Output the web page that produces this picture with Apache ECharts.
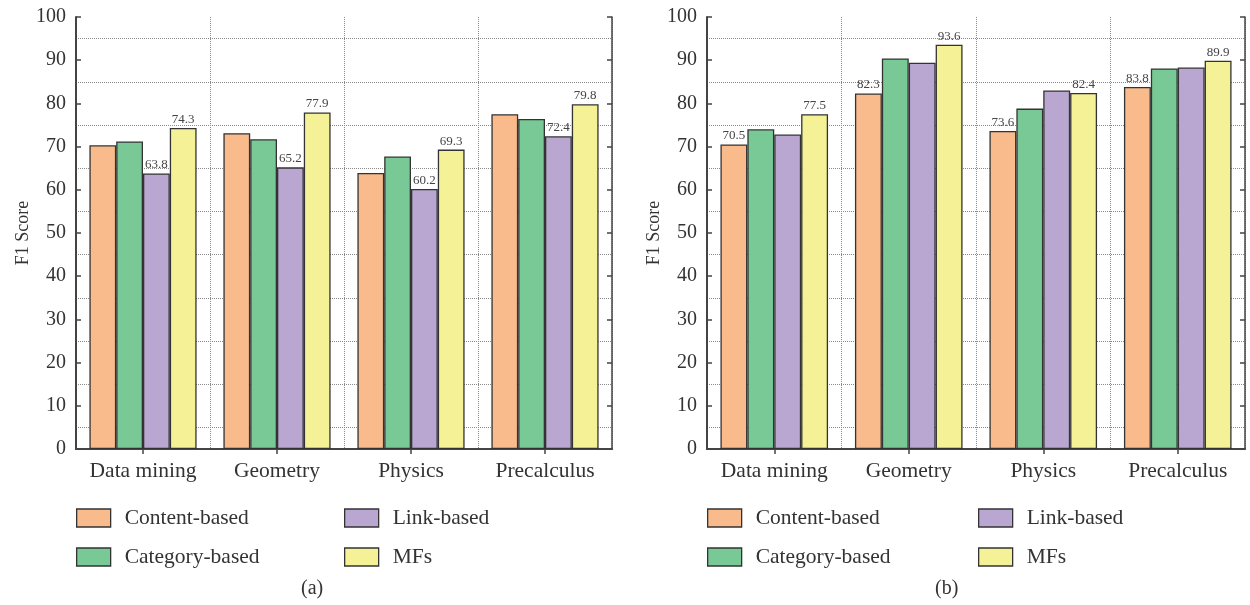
<!DOCTYPE html>
<html><head><meta charset="utf-8">
<script src="https://cdn.jsdelivr.net/npm/echarts@6/dist/echarts.min.js"></script>
<style>html,body{margin:0;padding:0;background:#fff}#c{width:1250px;height:605px}</style>
</head><body><div id="c"></div>
<script>
// ---- data ----
const categories = ['Data mining', 'Geometry', 'Physics', 'Precalculus'];
const seriesNames = ['Content-based', 'Category-based', 'Link-based', 'MFs'];
// panel (a)
const contentA  = [70.3, 73.1, 63.9, 77.5];
const categoryA = [71.2, 71.7, 67.7, 76.4];
const linkA     = [63.8, 65.2, 60.2, 72.4];
const mfsA      = [74.3, 77.9, 69.3, 79.8];
// panel (b)
const contentB  = [70.5, 82.3, 73.6, 83.8];
const categoryB = [74.0, 90.4, 78.8, 88.1];
const linkB     = [72.8, 89.4, 83.0, 88.3];
const mfsB      = [77.5, 93.6, 82.4, 89.9];
// y ticks: min, max, step
const yMin = 0, yMax = 100, yStep = 10;
// which series carry value labels
const labeledA = ['Link-based', 'MFs'];
const labeledB = ['Content-based', 'MFs'];
const panelTags = ['(a)', '(b)'];
const yName = 'F1 Score';

// ---- style ----
const colors = ['#F9BB8C', '#78C996', '#B9A7D1', '#F5F196'];
const FONT = '"Liberation Serif", "DejaVu Serif", serif';
const TXT = '#333';
const AX = '#444';
const GRIDC = '#8a8a8a';

const panels = [
  {data: [contentA, categoryA, linkA, mfsA], labeled: labeledA, grid: {left: 76, right: 638, top: 17, bottom: 156}, leg: [76, 344], tagX: 311},
  {data: [contentB, categoryB, linkB, mfsB], labeled: labeledB, grid: {left: 707, right: 5, top: 17, bottom: 156}, leg: [707, 978], tagX: 945}
];

const grid = [], xAxis = [], yAxis = [], series = [], legend = [], graphic = [];
panels.forEach((p, g) => {
  grid.push(p.grid);
  xAxis.push({
    type: 'category', gridIndex: g, data: categories, position: 'bottom',
    axisLine: {show: true, lineStyle: {color: AX, width: 2}},
    axisTick: {show: false},
    axisLabel: {interval: 0, fontFamily: FONT, fontSize: 21.5, color: TXT, margin: 11},
    splitLine: {show: true, interval: 0, lineStyle: {color: GRIDC, type: 'dotted', width: 1}}
  });
  xAxis.push({
    type: 'category', gridIndex: g, data: categories, position: 'top',
    axisLine: {show: true, lineStyle: {color: AX, width: 1.5}},
    axisTick: {show: true, interval: 0, inside: true, alignWithLabel: true, length: 5, lineStyle: {color: AX, width: 1.5}},
    axisLabel: {show: false, interval: 0}, splitLine: {show: false}
  });
  yAxis.push({
    type: 'value', gridIndex: g, min: yMin, max: yMax, interval: yStep, position: 'left',
    name: yName, nameLocation: 'middle', nameGap: 41,
    nameTextStyle: {fontFamily: FONT, fontSize: 18, color: TXT},
    axisLine: {show: true, lineStyle: {color: AX, width: 2}},
    axisTick: {show: true, inside: true, length: 5, lineStyle: {color: AX, width: 1.5}},
    axisLabel: {fontFamily: FONT, fontSize: 20, color: TXT, margin: 10},
    splitLine: {show: false},
    minorTick: {show: false, splitNumber: 2},
    minorSplitLine: {show: true, lineStyle: {color: GRIDC, type: 'dotted', width: 1}}
  });
  yAxis.push({
    type: 'value', gridIndex: g, min: yMin, max: yMax, interval: yStep, position: 'right',
    axisLine: {show: true, lineStyle: {color: AX, width: 1.5}},
    axisTick: {show: true, inside: true, length: 5, lineStyle: {color: AX, width: 1.5}},
    axisLabel: {show: false}, splitLine: {show: false}
  });
  seriesNames.forEach((name, i) => {
    series.push({
      type: 'bar', name: name, xAxisIndex: 2 * g, yAxisIndex: 2 * g,
      data: p.data[i], barGap: '0%', barCategoryGap: '20%',
      itemStyle: {color: colors[i], borderColor: '#333', borderWidth: 1.3},
      label: {show: p.labeled.includes(name), position: 'top', distance: 2,
              fontFamily: FONT, fontSize: 13, color: '#444'},
      emphasis: {disabled: true}
    });
  });
  [[seriesNames[0], seriesNames[1]], [seriesNames[2], seriesNames[3]]].forEach((names, c) => {
    legend.push({
      data: names, orient: 'vertical', left: p.leg[c], top: 507, padding: 0,
      itemWidth: 34, itemHeight: 18, itemGap: 17, icon: 'rect',
      itemStyle: {borderColor: '#333', borderWidth: 1.3},
      textStyle: {fontFamily: FONT, fontSize: 21.5, color: TXT, padding: [0, 0, 0, 9]},
      selectedMode: false
    });
  });
  graphic.push({
    type: 'text', left: p.tagX - 10, top: 579,
    style: {text: panelTags[g], font: '20px ' + FONT, fill: TXT}
  });
});

const chart = echarts.init(document.getElementById('c'), null, {renderer: 'canvas'});
chart.setOption({
  animation: false, backgroundColor: '#fff', color: colors,
  grid, xAxis, yAxis, series, legend, graphic
});
</script></body></html>
